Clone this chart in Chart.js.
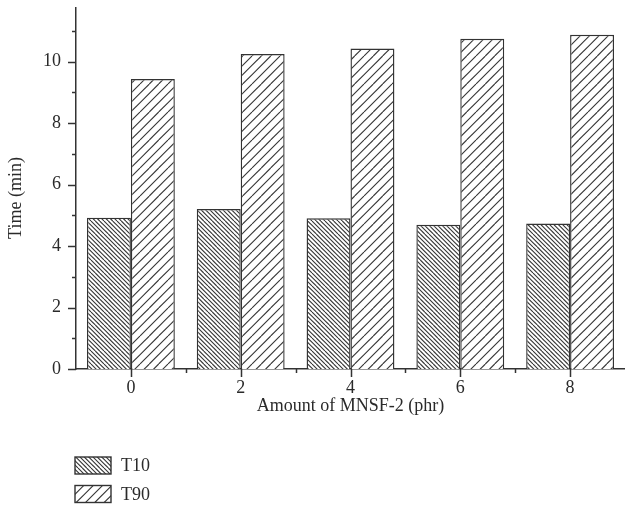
<!DOCTYPE html>
<html><head><meta charset="utf-8">
<script src="https://cdn.jsdelivr.net/npm/chart.js@4.4.1/dist/chart.umd.min.js"></script>
<style>html,body{margin:0;padding:0;background:#fff}#wrap{width:625px;height:506px}</style>
</head><body><div id="wrap"><canvas id="c" width="625" height="506"></canvas></div>
<script>
const categories = ['0', '2', '4', '6', '8'];
const seriesNames = ['T10', 'T90'];
const t10Values = [4.92, 5.20, 4.90, 4.69, 4.73];
const t90Values = [9.43, 10.24, 10.42, 10.74, 10.87];
const yTickValues = [0, 2, 4, 6, 8, 10];
const yMin = 0;
const yMax = 11.74;
const xTitle = 'Amount of MNSF-2 (phr)';
const yTitle = 'Time (min)';

const INK = '#333333';
const TXT = '#2a2a2a';
const FONT = 'Liberation Serif';

function hatch(dir, spacing, n) {
  const S = Math.round(spacing * n);
  const c = document.createElement('canvas');
  c.width = S; c.height = S;
  const g = c.getContext('2d');
  g.fillStyle = '#fff'; g.fillRect(0, 0, S, S);
  g.strokeStyle = INK; g.lineWidth = 1.1;
  for (let i = -n; i <= 2 * n; i++) {
    const o = i * S / n;
    g.beginPath();
    if (dir > 0) { g.moveTo(o, S); g.lineTo(o + S, 0); }
    else { g.moveTo(o, 0); g.lineTo(o + S, S); }
    g.stroke();
  }
  return g.createPattern(c, 'repeat');
}
const patT10 = hatch(-1, 4.33, 3);
const patT90 = hatch(1, 9.33, 3);

const decor = {
  id: 'decor',
  afterDraw(chart) {
    const ctx = chart.ctx;
    const xs = chart.scales.x, ys = chart.scales.y;
    const ca = chart.chartArea;
    ctx.save();
    ctx.strokeStyle = INK; ctx.lineWidth = 1.5;
    yTickValues.forEach((v) => {
      const y = Math.round(ys.getPixelForValue(v)) + 0.5;
      ctx.beginPath(); ctx.moveTo(ca.left - 8, y); ctx.lineTo(ca.left, y); ctx.stroke();
      const m = v + 1;
      if (m < yMax) {
        const ym = Math.round(ys.getPixelForValue(m)) + 0.5;
        ctx.beginPath(); ctx.moveTo(ca.left - 4, ym); ctx.lineTo(ca.left, ym); ctx.stroke();
      }
    });
    categories.forEach((c, i) => {
      const x = Math.round(xs.getPixelForValue(i)) + 0.5;
      ctx.beginPath(); ctx.moveTo(x, ca.bottom); ctx.lineTo(x, ca.bottom + 8); ctx.stroke();
      if (i < categories.length - 1) {
        const xm = Math.round(xs.getPixelForValue(i + 0.5)) + 0.5;
        ctx.beginPath(); ctx.moveTo(xm, ca.bottom); ctx.lineTo(xm, ca.bottom + 4); ctx.stroke();
      }
    });
    // y-axis title
    ctx.save();
    ctx.font = '18px "' + FONT + '"';
    ctx.fillStyle = TXT;
    ctx.textAlign = 'center'; ctx.textBaseline = 'middle';
    ctx.translate(16, 198); ctx.rotate(-Math.PI / 2);
    ctx.fillText(yTitle, 0, 0);
    ctx.restore();
    // legend
    const pats = [patT10, patT90];
    ctx.font = '18px "' + FONT + '"';
    ctx.textBaseline = 'middle';
    chart.data.datasets.forEach((ds, i) => {
      const bx = 75, by = 457 + i * 28.5, bw = 36, bh = 17;
      ctx.fillStyle = pats[i];
      ctx.fillRect(bx, by, bw, bh);
      ctx.lineWidth = 1.4; ctx.strokeStyle = INK;
      ctx.strokeRect(bx, by, bw, bh);
      ctx.fillStyle = TXT;
      ctx.fillText(ds.label, 121, by + bh / 2 + 1);
    });
    ctx.restore();
  }
};

new Chart(document.getElementById('c'), {
  type: 'bar',
  data: {
    labels: categories,
    datasets: [
      { label: seriesNames[0], data: t10Values, backgroundColor: patT10, borderColor: INK, borderWidth: 1.4 },
      { label: seriesNames[1], data: t90Values, backgroundColor: patT90, borderColor: INK, borderWidth: 1.4 }
    ]
  },
  options: {
    responsive: false,
    animation: false,
    devicePixelRatio: 1,
    layout: { padding: { top: 8, left: 0, right: 0, bottom: 85 } },
    datasets: { bar: { categoryPercentage: 0.8, barPercentage: 1.0 } },
    plugins: { legend: { display: false }, tooltip: { enabled: false } },
    scales: {
      x: {
        grid: { display: false, drawTicks: false },
        border: { display: true, color: INK, width: 1.5 },
        ticks: { color: TXT, font: { family: FONT, size: 18 }, padding: 8 },
        title: { display: true, text: xTitle, color: TXT, font: { family: FONT, size: 18 }, padding: 4 },
        afterFit(s) { s.height = 52; s.paddingLeft = 0; s.paddingRight = 0; }
      },
      y: {
        min: yMin, max: yMax,
        grid: { display: false, drawTicks: false },
        border: { display: true, color: INK, width: 1.5 },
        ticks: { color: TXT, font: { family: FONT, size: 18 }, padding: 15 },
        afterBuildTicks(s) { s.ticks = yTickValues.map(v => ({ value: v })); },
        title: { display: false, text: yTitle },
        afterFit(s) { s.width = 76; s.paddingTop = 0; s.paddingBottom = 0; }
      }
    }
  },
  plugins: [decor]
});
</script>
</body></html>
